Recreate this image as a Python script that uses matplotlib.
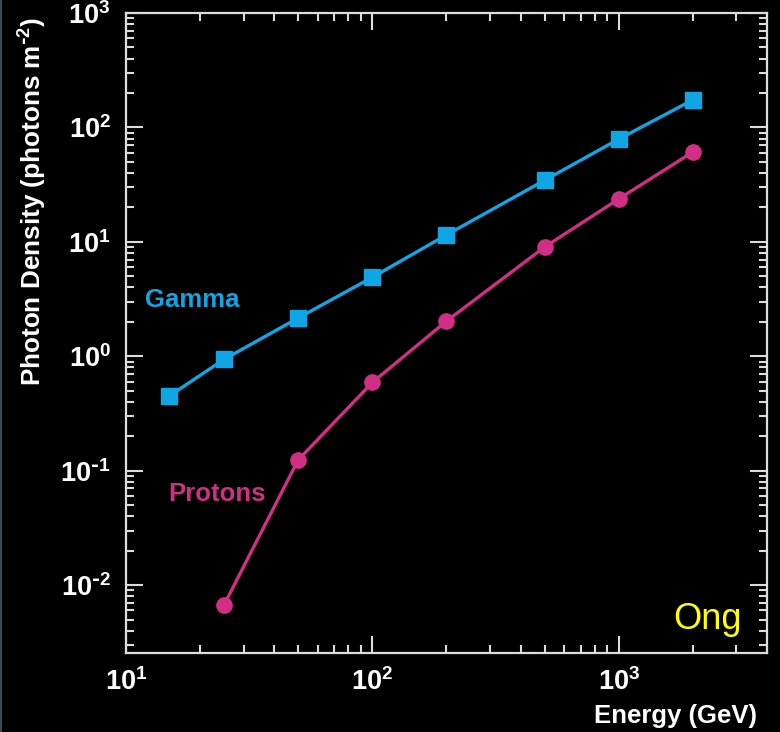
import matplotlib
matplotlib.use('Agg')
import matplotlib.pyplot as plt
import matplotlib.ticker as ticker
from matplotlib.lines import Line2D
import numpy as np

plt.rcParams['font.family'] = ['Liberation Sans', 'DejaVu Sans']
plt.rcParams['font.weight'] = 'bold'
plt.rcParams['mathtext.default'] = 'regular'

# energies (GeV)
gamma_energy = [15, 25, 50, 100, 200, 500, 1000, 2000]
gamma_density = [0.45, 0.94, 2.16, 4.9, 11.5, 34.5, 79, 174]

proton_energy = [25, 50, 100, 200, 500, 1000, 2000]
proton_density = [0.0067, 0.124, 0.59, 2.03, 9.0, 23.7, 61]

gamma_color = '#10a6e6'
proton_color = '#d22e86'
frame_color = '#dddddd'


def pow_label(v, pos=None):
    e = int(round(np.log10(v)))
    if e < 0:
        return r'$10^{\text{-}%d}$' % (-e)
    return r'$10^{%d}$' % e


fig = plt.figure(figsize=(7.8, 7.32), dpi=100, facecolor='black')
ax = fig.add_axes([0.1615, 0.1079, 0.8218, 0.8743], facecolor='black')

ax.plot(gamma_energy, gamma_density, color=gamma_color, lw=2.4,
        marker='s', ms=11.5, mec=gamma_color, mfc=gamma_color)
ax.plot(proton_energy, proton_density, color=proton_color, lw=2.4,
        marker='o', ms=11, mec=proton_color, mfc=proton_color)

ax.set_xscale('log')
ax.set_yscale('log')
ax.set_xlim(10, 4000)
ax.set_ylim(0.00255, 1000)

for side in ax.spines.values():
    side.set_color(frame_color)
    side.set_linewidth(1.6)

ax.tick_params(which='both', direction='in', colors=frame_color, top=True, right=True,
               labelcolor='white', labelsize=19.5, width=1.5)
ax.tick_params(which='major', length=12, pad=11)
ax.tick_params(which='minor', length=6)
ax.xaxis.set_major_locator(ticker.LogLocator(base=10, numticks=10))
ax.yaxis.set_major_locator(ticker.LogLocator(base=10, numticks=10))
ax.xaxis.set_minor_locator(ticker.LogLocator(base=10, subs=np.arange(2, 10), numticks=20))
ax.yaxis.set_minor_locator(ticker.LogLocator(base=10, subs=np.arange(2, 10), numticks=20))
ax.xaxis.set_major_formatter(ticker.FuncFormatter(pow_label))
ax.yaxis.set_major_formatter(ticker.FuncFormatter(pow_label))
ax.xaxis.set_minor_formatter(ticker.NullFormatter())
ax.yaxis.set_minor_formatter(ticker.NullFormatter())

ax.text(0.029, 0.551, 'Gamma', transform=ax.transAxes, color=gamma_color,
        fontsize=18.5, fontweight='bold', va='center')
ax.text(0.066, 0.248, 'Protons', transform=ax.transAxes, color=proton_color,
        fontsize=18.5, fontweight='bold', va='center')
ax.text(0.961, 0.052, 'Ong', transform=ax.transAxes, color='#ffff00',
        fontsize=26, fontweight='normal', ha='right', va='center')

fig.text(0.971, 0.022, 'Energy (GeV)', color='white', fontsize=18.5,
         fontweight='bold', ha='right', va='center')
fig.text(0.042, 0.725, 'Photon Density (photons m$^{\\text{-}2}$)', color='white', fontsize=18.8,
         fontweight='bold', rotation=90, ha='center', va='center')

# thin slate edge on the left side of the slide
fig.add_artist(Line2D([0.0008, 0.0008], [0, 1], transform=fig.transFigure,
                      color='#4a5a68', lw=1.2))

fig.savefig('out.png', dpi=100, facecolor='black')
